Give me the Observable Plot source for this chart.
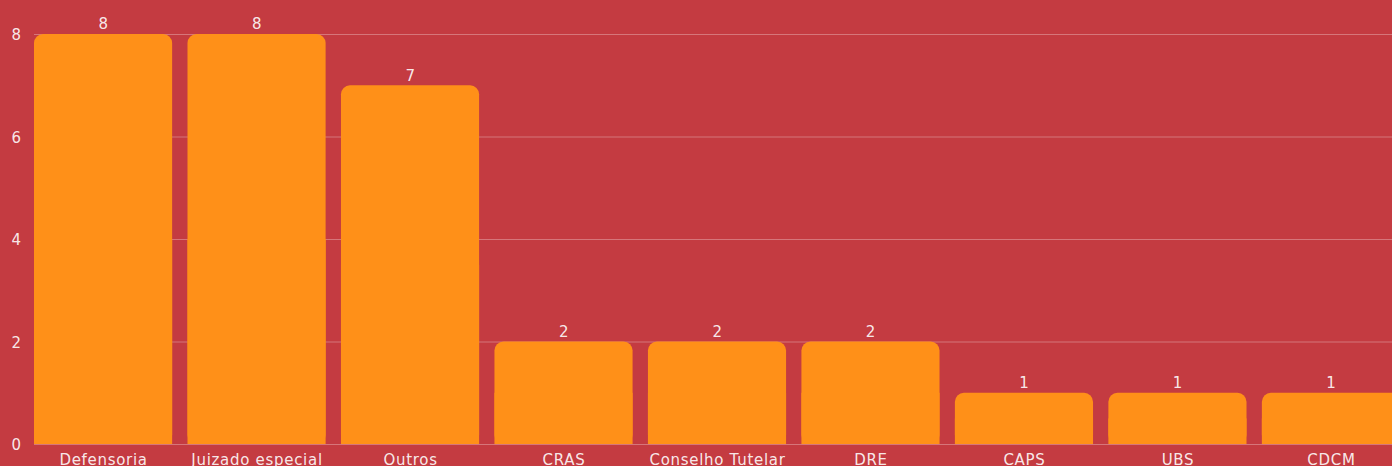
<!DOCTYPE html>
<html>
<head>
<meta charset="utf-8">
<script src="https://cdn.jsdelivr.net/npm/d3@7"></script>
<script src="https://cdn.jsdelivr.net/npm/@observablehq/plot@0.6"></script>
<style>
  html, body { margin: 0; padding: 0; background: #c43b41; overflow: hidden; }
  #chart svg { display: block; }
  #chart svg text { letter-spacing: 0.7px; }
</style>
</head>
<body>
<div id="chart"></div>
<script>
const categories = ["Defensoria", "Juizado especial", "Outros", "CRAS", "Conselho Tutelar", "DRE", "CAPS", "UBS", "CDCM"];
const values = [8, 8, 7, 2, 2, 2, 1, 1, 1];
const yTicks = [0, 2, 4, 6, 8];

const data = categories.map((c, i) => ({category: c, value: values[i]}));
const textColor = "rgba(255,255,255,0.9)";
const font = "'DejaVu Sans', sans-serif";

const chart = Plot.plot({
  width: 1392,
  height: 466,
  marginLeft: 34,
  marginRight: 0,
  marginTop: 34,
  marginBottom: 22,
  style: {background: "#c43b41", color: textColor, fontFamily: font, fontSize: "15px", overflow: "hidden"},
  x: {domain: categories, range: [34, 1400], paddingInner: 0.1, paddingOuter: 0, round: false, label: null},
  y: {domain: [0, 8], range: [444, 34], label: null},
  marks: [
    Plot.ruleY(yTicks, {stroke: "rgba(255,255,255,0.3)", strokeWidth: 1}),
    Plot.barY(data, {x: "category", y: "value", fill: "#ff9018", rx: 9}),
    Plot.barY(data, {x: "category", y1: 0, y2: d => d.value / 2, fill: "#ff9018"}),
    Plot.text(data, {x: "category", y: "value", text: d => String(d.value), dy: -10, fill: textColor, fontSize: 15}),
    Plot.axisX({tickSize: 0, tickPadding: 10, fontSize: 15, fill: textColor, label: null}),
    Plot.axisY({ticks: yTicks, tickSize: 0, tickPadding: 0, textAnchor: "start", dx: -23, dy: 1, fontSize: 15, fill: textColor, label: null})
  ]
});
document.getElementById("chart").appendChild(chart);
</script>
</body>
</html>
